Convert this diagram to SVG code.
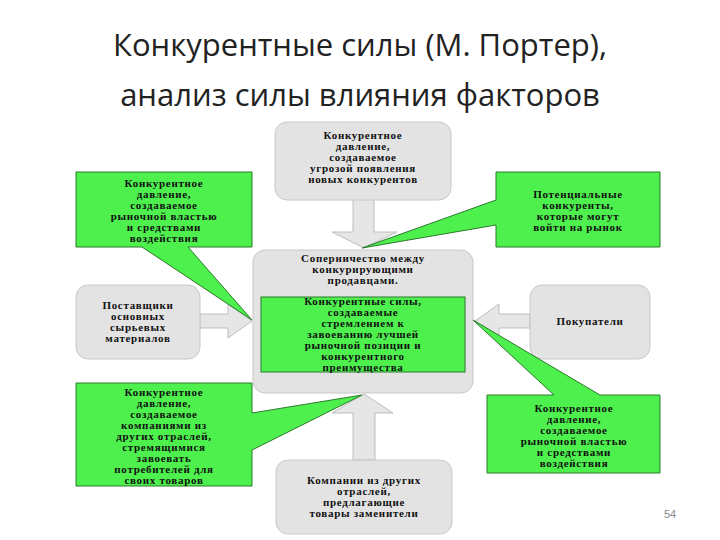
<svg xmlns="http://www.w3.org/2000/svg" width="720" height="540" viewBox="0 0 720 540">
<style>
.t{font-family:"Open Sans","Liberation Sans",Arial,sans-serif;font-size:31px;fill:#222;text-anchor:middle}
.b{font-family:"Liberation Serif","Times New Roman",serif;font-size:11px;fill:#111;text-anchor:middle;font-weight:bold;letter-spacing:0.7px}
.g{fill:#e3e3e3;stroke:#c8c8c8;stroke-width:1}
.gr{fill:#4ef04e;stroke:#2a7a2a;stroke-width:1}
.ar{fill:#e6e6e6;stroke:#bdbdbd;stroke-width:1}
</style>
<rect width="720" height="540" fill="#fff"/>
<text class="t" x="360" y="56">Конкурентные силы (М. Портер),</text>
<text class="t" x="360" y="106">анализ силы влияния факторов</text>
<g id="connectors">
<polygon class="ar" points="353,197 374,197 374,232 397,232 364,248 332,232 353,232"/>
<polygon class="ar" points="200,314 228,314 228,304 252,321 228,338 228,328 200,328"/>
<polygon class="ar" points="530,314 499,314 499,304 475,321 499,338 499,328 530,328"/>
<polygon class="ar" points="353,460 375,460 375,413 393,413 364,394 332,413 353,413"/>
</g>
<g id="center"><rect class="g" x="253" y="250" width="220" height="143" rx="12"/>
<text class="b" x="363" y="262">Соперничество между</text>
<text class="b" x="363" y="273">конкурирующими</text>
<text class="b" x="363" y="284">продавцами.</text></g>
<g id="inner"><rect class="gr" x="261" y="297" width="204" height="75"/>
<text class="b" x="363" y="305">Конкурентные силы,</text>
<text class="b" x="363" y="316">создаваемые</text>
<text class="b" x="363" y="327">стремлением к</text>
<text class="b" x="363" y="338">завоеванию лучшей</text>
<text class="b" x="363" y="349">рыночной позиции и</text>
<text class="b" x="363" y="360">конкурентного</text>
<text class="b" x="363" y="371">преимущества</text></g>
<g id="top"><rect class="g" x="275" y="122" width="176" height="78" rx="12"/>
<text class="b" x="363" y="139">Конкурентное</text>
<text class="b" x="363" y="150">давление,</text>
<text class="b" x="363" y="161">создаваемое</text>
<text class="b" x="363" y="172">угрозой появления</text>
<text class="b" x="363" y="183">новых конкурентов</text></g>
<g id="left"><rect class="g" x="76" y="285" width="124" height="74" rx="12"/>
<text class="b" x="138" y="309">Поставщики</text>
<text class="b" x="138" y="320">основных</text>
<text class="b" x="138" y="331">сырьевых</text>
<text class="b" x="138" y="342">материалов</text></g>
<g id="right"><rect class="g" x="530" y="285" width="120" height="74" rx="12"/>
<text class="b" x="590" y="325">Покупатели</text></g>
<g id="bottom"><rect class="g" x="276" y="460" width="176" height="74" rx="12"/>
<text class="b" x="364" y="484">Компании из других</text>
<text class="b" x="364" y="495">отраслей,</text>
<text class="b" x="364" y="506">предлагающие</text>
<text class="b" x="364" y="517">товары заменители</text></g>
<g id="tl"><polygon class="gr" points="76,172 252,172 252,247 188,247 252,320 142,247 76,247"/>
<text class="b" x="164" y="187">Конкурентное</text>
<text class="b" x="164" y="198">давление,</text>
<text class="b" x="164" y="209">создаваемое</text>
<text class="b" x="164" y="220">рыночной властью</text>
<text class="b" x="164" y="231">и средствами</text>
<text class="b" x="164" y="242">воздействия</text></g>
<g id="tr"><polygon class="gr" points="496,172 660,172 660,247 496,247 496,225 362,248 496,200"/>
<text class="b" x="578" y="198">Потенциальные</text>
<text class="b" x="578" y="209">конкуренты,</text>
<text class="b" x="578" y="220">которые могут</text>
<text class="b" x="578" y="231">войти на рынок</text></g>
<g id="bl"><polygon class="gr" points="76,383 252,383 252,413 362,395 252,450 252,486 76,486"/>
<text class="b" x="164" y="396">Конкурентное</text>
<text class="b" x="164" y="407">давление,</text>
<text class="b" x="164" y="418">создаваемое</text>
<text class="b" x="164" y="429">компаниями из</text>
<text class="b" x="164" y="440">других отраслей,</text>
<text class="b" x="164" y="451">стремящимися</text>
<text class="b" x="164" y="462">завоевать</text>
<text class="b" x="164" y="473">потребителей для</text>
<text class="b" x="164" y="484">своих товаров</text></g>
<g id="br"><polygon class="gr" points="487,395 554,395 473,320 600,395 660,395 660,473 487,473"/>
<text class="b" x="574" y="412">Конкурентное</text>
<text class="b" x="574" y="423">давление,</text>
<text class="b" x="574" y="434">создаваемое</text>
<text class="b" x="574" y="445">рыночной властью</text>
<text class="b" x="574" y="456">и средствами</text>
<text class="b" x="574" y="467">воздействия</text></g>
<text x="670" y="518" font-family="Liberation Sans,sans-serif" font-size="11" fill="#888" text-anchor="middle">54</text>
</svg>
